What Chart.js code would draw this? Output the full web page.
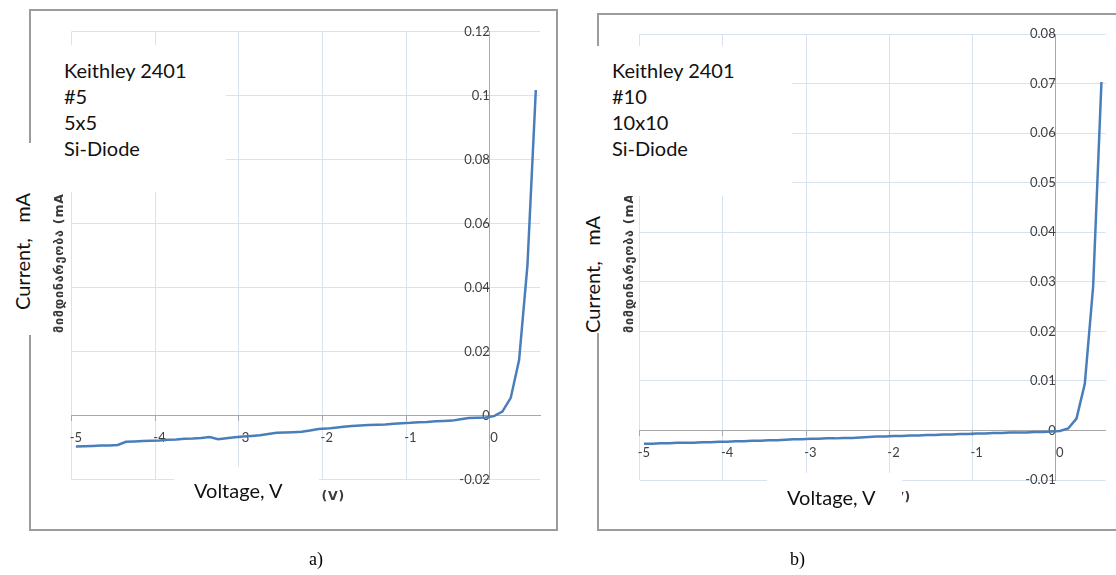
<!DOCTYPE html>
<html>
<head>
<meta charset="utf-8">
<script src="https://cdn.jsdelivr.net/npm/chart.js@4.4.1/dist/chart.umd.min.js"></script>
<style>
  html, body { margin: 0; padding: 0; background: #fff; }
  body { width: 1116px; height: 575px; position: relative; overflow: hidden; font-family: Lato, sans-serif; }
  .frame { position: absolute; border: 2px solid #9c9c9c; box-sizing: border-box; }
  canvas { position: absolute; top: 0; filter: blur(0.5px); }
  .geo { position: absolute; font-family: "DejaVu Sans", sans-serif; font-weight: bold; font-size: 12.5px;
         letter-spacing: 0.8px; line-height: 14px; color: #3a3a3a; white-space: pre; filter: blur(0.4px); }
  .mask { position: absolute; background: #fff; }
  .note { position: absolute; font-family: Lato, sans-serif; font-size: 20px; line-height: 26px; color: #111; white-space: pre; }
  .rot { transform-origin: 0 0; transform: rotate(-90deg); }
  .cap { position: absolute; font-family: "Liberation Serif", serif; font-size: 18px; line-height: 20px; color: #000; }
</style>
</head>
<body>
<div class="frame" style="left:29px;top:9px;width:529px;height:522px;"></div>
<div class="frame" style="left:597px;top:13px;width:540px;height:518px;"></div>

<canvas id="chartA" width="560" height="575" style="left:0px;"></canvas>
<canvas id="chartB" width="556" height="575" style="left:560px;"></canvas>

<!-- Georgian axis titles of the original plots -->
<div class="geo rot" style="left:52px;top:333px;">მიმდინარეობა (mA)</div>
<div class="geo rot" style="left:622px;top:333px;">მიმდინარეობა (mA)</div>
<div class="geo" style="right:771px;top:489px;">ძაბვა (V)</div>
<div class="geo" style="right:205px;top:490px;">ძაბვა (V)</div>

<!-- white label boxes -->
<div class="mask" style="left:33px;top:45px;width:193px;height:147px;"></div>
<div class="mask" style="left:0px;top:143px;width:48px;height:192px;"></div>
<div class="mask" style="left:174px;top:467px;width:145px;height:48px;"></div>
<div class="mask" style="left:575px;top:46px;width:217px;height:150px;"></div>
<div class="mask" style="left:570px;top:190px;width:44px;height:143px;"></div>
<div class="mask" style="left:767px;top:473px;width:135px;height:42px;"></div>

<div class="note" style="left:64px;top:57px;">Keithley 2401
#5
5x5
Si-Diode</div>
<div class="note" style="left:612px;top:57px;">Keithley 2401
#10
10x10
Si-Diode</div>
<div class="note" style="left:194px;top:477px;">Voltage, V</div>
<div class="note" style="left:787px;top:484px;">Voltage, V</div>
<div class="note rot" style="left:9px;top:310px;">Current,   mA</div>
<div class="note rot" style="left:579px;top:333px;">Current,   mA</div>

<div class="cap" style="left:309px;top:549px;">a)</div>
<div class="cap" style="left:790px;top:549px;">b)</div>

<script>
// Voltage steps (V) of the I-V sweep, one category per measurement
const voltageLabels = [
  "-5", "-4.9", "-4.8", "-4.7", "-4.6", "-4.5", "-4.4", "-4.3", "-4.2", "-4.1",
  "-4", "-3.9", "-3.8", "-3.7", "-3.6", "-3.5", "-3.4", "-3.3", "-3.2", "-3.1",
  "-3", "-2.9", "-2.8", "-2.7", "-2.6", "-2.5", "-2.4", "-2.3", "-2.2", "-2.1",
  "-2", "-1.9", "-1.8", "-1.7", "-1.6", "-1.5", "-1.4", "-1.3", "-1.2", "-1.1",
  "-1", "-0.9", "-0.8", "-0.7", "-0.6", "-0.5", "-0.4", "-0.3", "-0.2", "-0.1",
  "0", "0.1", "0.2", "0.3", "0.4", "0.5"
];

// Diode #5 (5x5), current in mA
const currentA = [
  -0.0097, -0.0096, -0.0095, -0.0094, -0.0094, -0.0092, -0.0082, -0.0081, -0.0080, -0.0079,
  -0.0078, -0.0076, -0.0075, -0.0073, -0.0072, -0.0070, -0.0067, -0.0074, -0.0071, -0.0068,
  -0.0066, -0.0064, -0.0062, -0.0058, -0.0054, -0.0053, -0.0052, -0.0051, -0.0047, -0.0042,
  -0.0041, -0.0038, -0.0035, -0.0033, -0.0031, -0.0030, -0.0029, -0.0028, -0.0026, -0.0024,
  -0.0023, -0.0021, -0.0020, -0.0018, -0.0017, -0.0016, -0.0012, -0.0008, -0.0007, -0.0006,
  -0.0002, 0.0012, 0.0055, 0.0173, 0.0470, 0.1017
];

// Diode #10 (10x10), current in mA
const currentB = [
  -0.0027, -0.0027, -0.0026, -0.0026, -0.0025, -0.0025, -0.0025, -0.0024, -0.0024, -0.0023,
  -0.0023, -0.0022, -0.0022, -0.0021, -0.0021, -0.0020, -0.0020, -0.0019, -0.0018, -0.0018,
  -0.0017, -0.0017, -0.0016, -0.0016, -0.0015, -0.0015, -0.0014, -0.0013, -0.0012, -0.0012,
  -0.0011, -0.0011, -0.0010, -0.0010, -0.0009, -0.0009, -0.0008, -0.0008, -0.0007, -0.0007,
  -0.0006, -0.0006, -0.0005, -0.0005, -0.0004, -0.0004, -0.0004, -0.0003, -0.0003, -0.0002,
  -0.0001, 0.0004, 0.0024, 0.0094, 0.0290, 0.0703
];

// current axis ranges: [min, max, step]
const rangeA = [-0.02, 0.12, 0.02];
const rangeB = [-0.01, 0.08, 0.01];

const CURVE = '#4a7ebb';
const GRID = '#d9e3ef';
const AXIS = '#a8a8a8';
const TICK = '#404040';
const TICK_FONT = { family: 'Lato', size: 13 };

// vertical axis sits on the boundary between "-0.1" and "0"
const ZERO_BOUNDARY = 49.5;

function zeroPad(scale) {
  scale.paddingLeft = 0; scale.paddingRight = 0;
  scale.paddingTop = 0; scale.paddingBottom = 0;
}

function everyTenth(ctx, colour) {
  return (ctx.index !== undefined && ctx.index % 10 === 0) ? colour : 'rgba(0,0,0,0)';
}

function makeChart(id, values, range, pad) {
  return new Chart(document.getElementById(id), {
    type: 'line',
    data: {
      labels: voltageLabels,
      datasets: [{
        data: values, borderColor: CURVE, borderWidth: 2.5,
        pointRadius: 0, tension: 0, fill: false
      }]
    },
    options: {
      responsive: false, animation: false, devicePixelRatio: 1, events: [],
      layout: { padding: pad },
      plugins: { legend: { display: false }, tooltip: { enabled: false } },
      scales: {
        x: {
          type: 'category', offset: true, position: { y: 0 }, afterFit: zeroPad,
          grid: {
            offset: true, lineWidth: 1, tickLength: 5,
            color: ctx => everyTenth(ctx, GRID),
            tickColor: ctx => everyTenth(ctx, AXIS)
          },
          border: { color: AXIS, width: 1 },
          ticks: {
            autoSkip: false, maxRotation: 0, minRotation: 0, padding: 10,
            color: TICK, font: TICK_FONT,
            callback: function (v, i) { return i % 10 === 0 ? this.getLabelForValue(v) : ''; }
          }
        },
        y: {
          type: 'linear', min: range[0], max: range[1],
          position: { x: ZERO_BOUNDARY }, afterFit: zeroPad,
          grid: { color: GRID, tickColor: AXIS, tickLength: 5, lineWidth: 1 },
          border: { color: AXIS, width: 1 },
          ticks: {
            stepSize: range[2], padding: 9, color: TICK, font: TICK_FONT,
            callback: v => String(Number(v.toFixed(4)))
          }
        }
      }
    }
  });
}

makeChart('chartA', currentA, rangeA, { left: 71.7, top: 31.5, right: 20, bottom: 95.5 });
makeChart('chartB', currentB, rangeB, { left: 79.8, top: 34, right: 10.4, bottom: 95 });
</script>
</body>
</html>
